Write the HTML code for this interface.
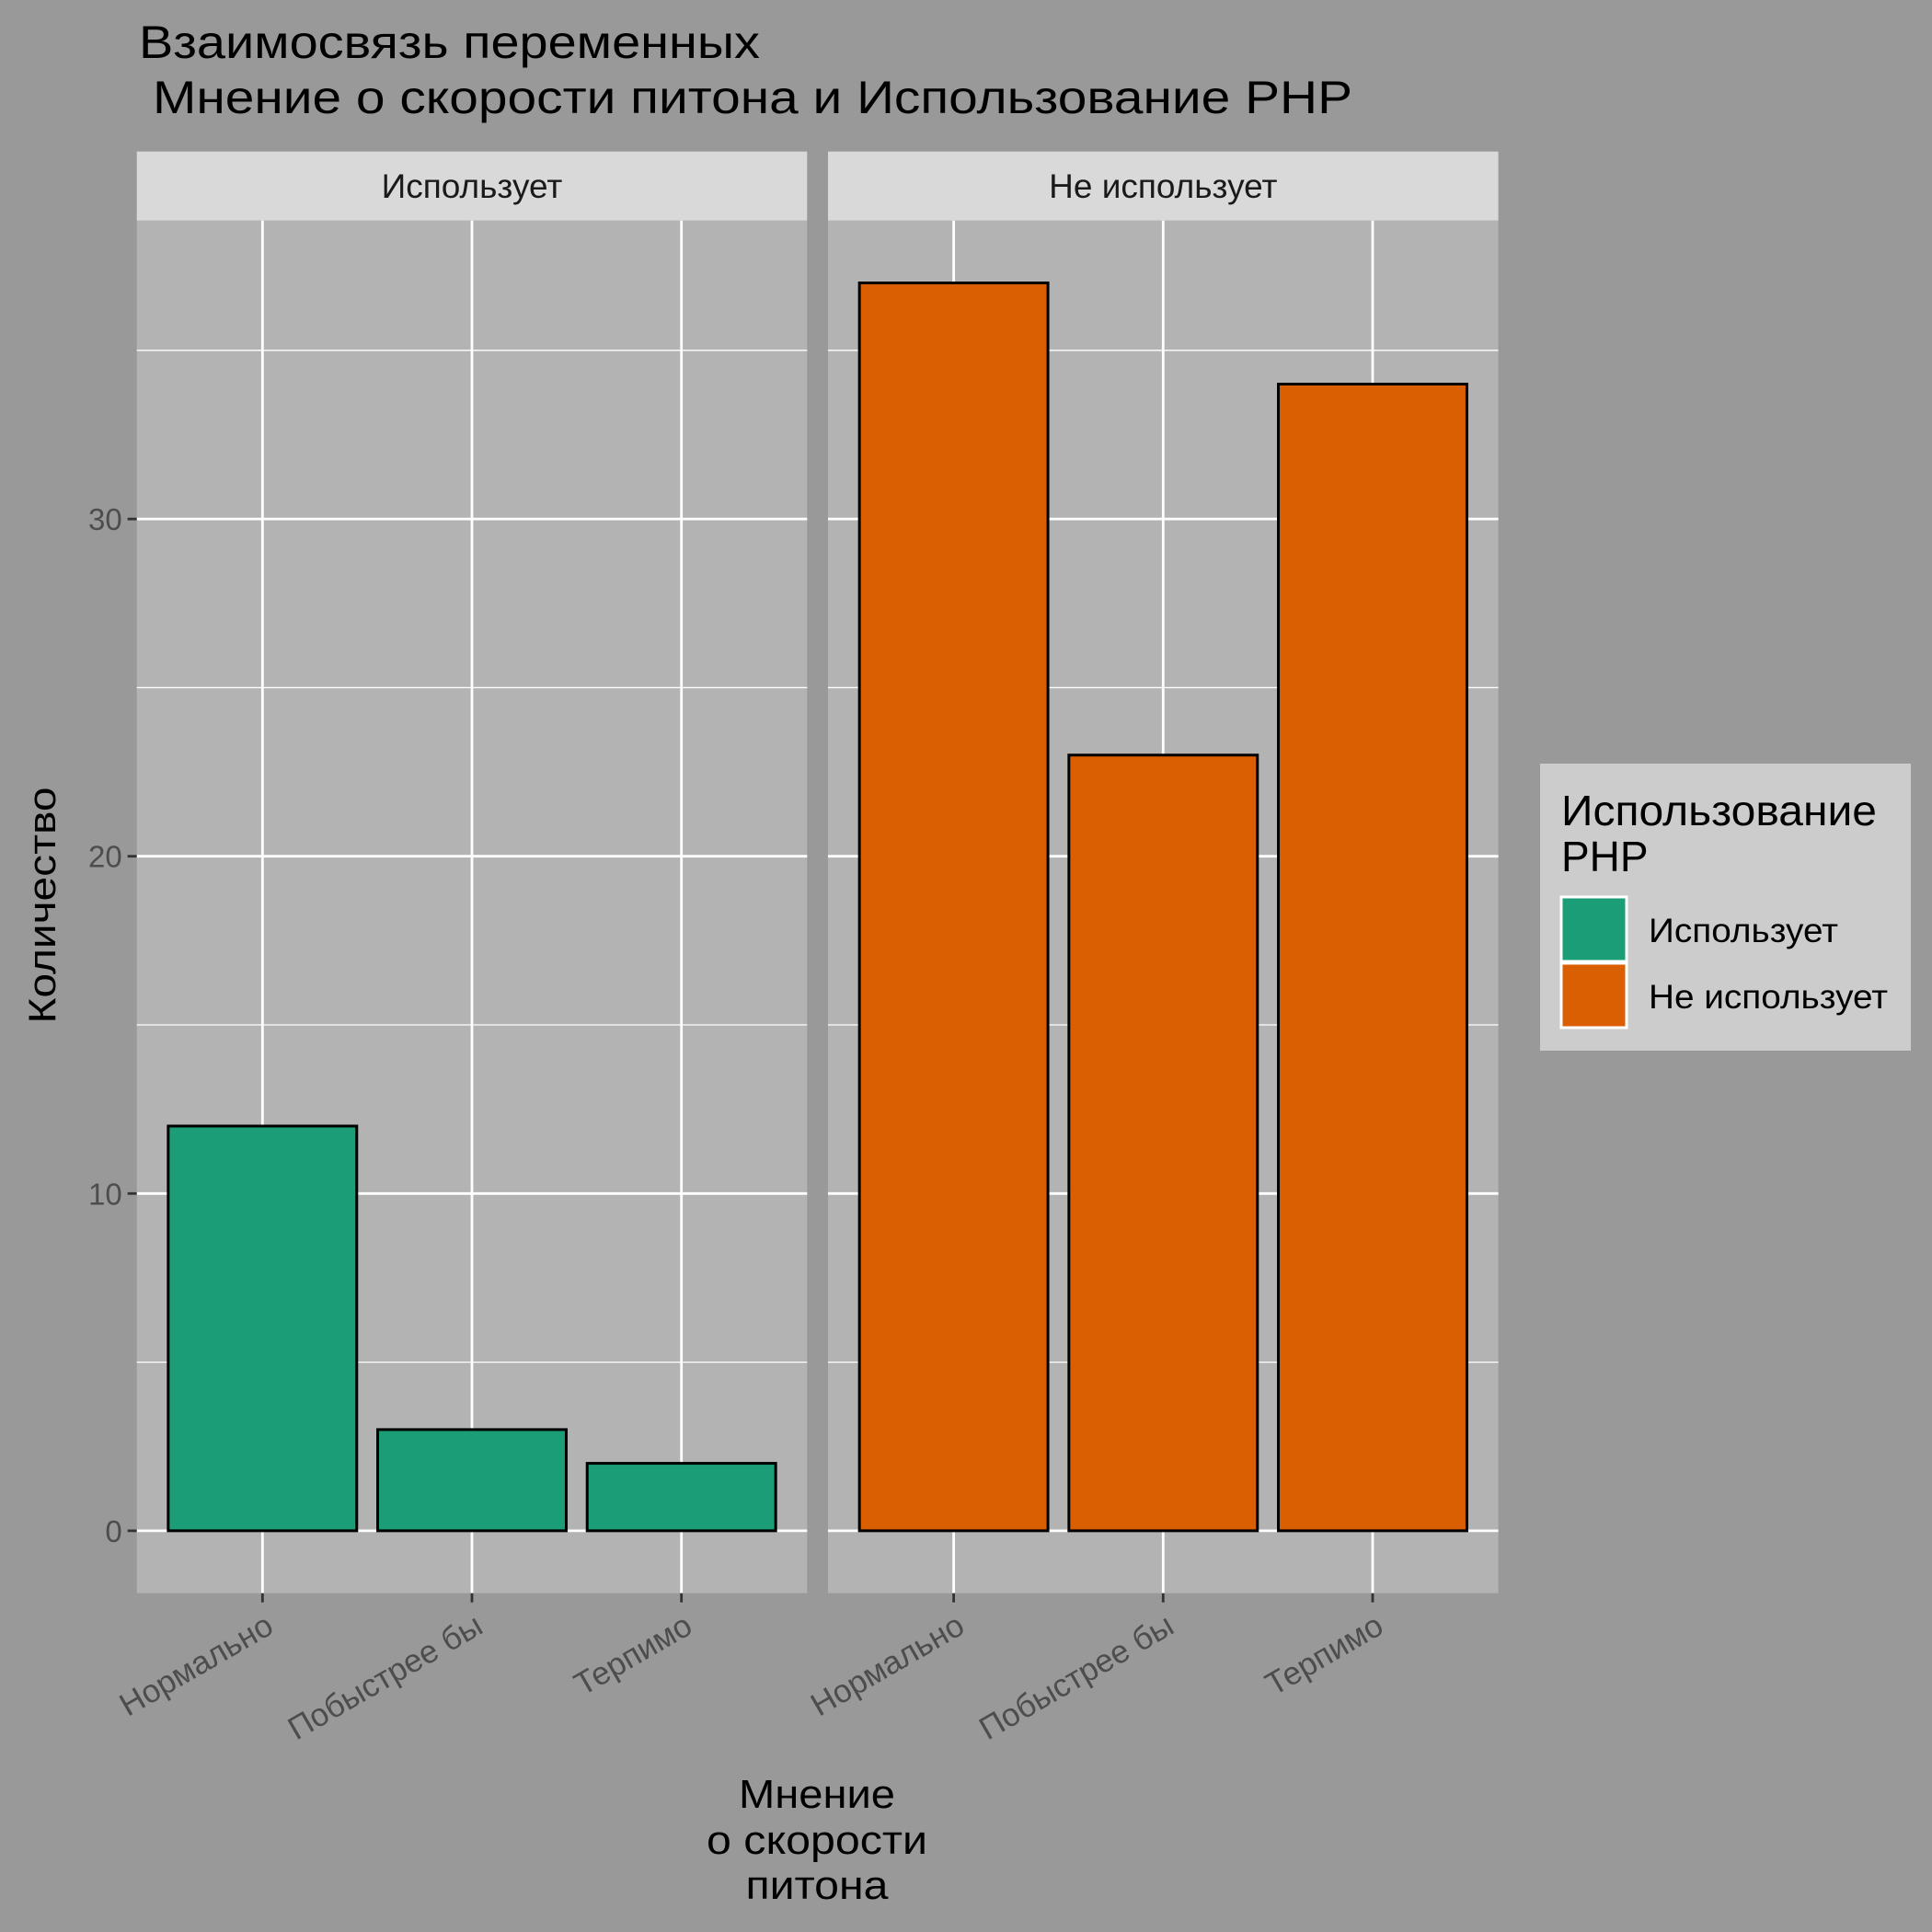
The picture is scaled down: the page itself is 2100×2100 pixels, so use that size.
<!DOCTYPE html>
<html><head><meta charset="utf-8"><style>
html,body{margin:0;padding:0;background:#999999;}
svg{display:block;font-family:"Liberation Sans","DejaVu Sans",sans-serif;}
</style></head><body>
<svg id="chart" width="2100" height="2100" viewBox="0 0 2100 2100" xmlns="http://www.w3.org/2000/svg">
<rect x="0" y="0" width="2100" height="2100" fill="#999999"/>
<text x="151" y="63" font-size="50" fill="#000" textLength="675" lengthAdjust="spacingAndGlyphs">Взаимосвязь переменных</text>
<text x="166" y="123" font-size="50" fill="#000" textLength="1304" lengthAdjust="spacingAndGlyphs">Мнение о скорости питона и Использование PHP</text>
<g id="plot"></g>
<text transform="translate(60,984) rotate(-90)" text-anchor="middle" font-size="42" fill="#000" textLength="257" lengthAdjust="spacingAndGlyphs">Количество</text>
<g font-size="44" text-anchor="middle" fill="#000">
<text x="888" y="1965" textLength="170" lengthAdjust="spacingAndGlyphs">Мнение</text>
<text x="888" y="2015" textLength="240" lengthAdjust="spacingAndGlyphs">о скорости</text>
<text x="888" y="2064" textLength="155" lengthAdjust="spacingAndGlyphs">питона</text>
</g>
<g>
<rect x="1674" y="830" width="403" height="312" fill="#cccccc"/>
<text x="1697" y="897" font-size="46" fill="#000" textLength="343" lengthAdjust="spacingAndGlyphs">Использование</text>
<text x="1697" y="947" font-size="46" fill="#000">PHP</text>
<g>
<rect x="1697" y="975" width="71" height="70" fill="#1b9e77" stroke="#fff" stroke-width="3"/>
<text x="1792" y="1024" font-size="37" fill="#000" textLength="206" lengthAdjust="spacingAndGlyphs">Использует</text>
</g>
<g>
<rect x="1697" y="1047" width="71" height="70" fill="#d95f02" stroke="#fff" stroke-width="3"/>
<text x="1792" y="1096" font-size="37" fill="#000" textLength="260" lengthAdjust="spacingAndGlyphs">Не использует</text>
</g>
</g>
</svg>
<script>
const panels = ["Использует", "Не использует"];
const categories = ["Нормально", "Побыстрее бы", "Терпимо"];
const usesValues = [12, 3, 2];
const notUsesValues = [37, 23, 34];
const yTicks = [0, 10, 20, 30];
const yMinor = [5, 15, 25, 35];
const colors = ["#1b9e77", "#d95f02"];

const NS = "http://www.w3.org/2000/svg";
const g = document.getElementById("plot");
const panelX = [148.7, 900];
const panelW = 728.6;
const stripTop = 164.7, stripBot = 239.7, panelBot = 1731.7;
const yMin = -1.85, yMax = 38.85;
function yScale(v){ return panelBot - (v - yMin) / (yMax - yMin) * (panelBot - stripBot); }
function xScale(p, i){ const step = panelW / (categories.length + 0.2); return panelX[p] + step * (0.6 + i); }
function mk(tag, attrs){ const e = document.createElementNS(NS, tag); for (const k in attrs) e.setAttribute(k, attrs[k]); g.appendChild(e); return e; }
const series = [usesValues, notUsesValues];
const step = panelW / (categories.length + 0.2);
const bw = step * 0.9;
panels.forEach((name, p) => {
  const px = panelX[p];
  const bg = mk("rect", {x: px, y: stripBot, width: panelW, height: panelBot - stripBot, fill: "#b3b3b3"});
  
  
  const st = mk("rect", {x: px, y: stripTop, width: panelW, height: stripBot - stripTop, fill: "#d9d9d9"});
  
  
  const sl = mk("text", {x: px + panelW / 2, y: 215, "text-anchor": "middle", "font-size": 37, fill: "#1a1a1a"});
  sl.textContent = name;
  
  
  yMinor.forEach(v => {
    const l = mk("line", {x1: px, x2: px + panelW, y1: yScale(v), y2: yScale(v), stroke: "#fff", "stroke-width": 1.3});
    
    
  });
  yTicks.forEach(v => {
    const l = mk("line", {x1: px, x2: px + panelW, y1: yScale(v), y2: yScale(v), stroke: "#fff", "stroke-width": 2.8});
    
    
  });
  categories.forEach((c, i) => {
    const cx = xScale(p, i);
    const l = mk("line", {x1: cx, x2: cx, y1: stripBot, y2: panelBot, stroke: "#fff", "stroke-width": 2.8});
    
    
    const t = mk("line", {x1: cx, x2: cx, y1: panelBot, y2: panelBot + 10, stroke: "#333", "stroke-width": 2.8});
    
    
    const lbl = mk("text", {transform: `translate(${cx + 14},${panelBot + 42}) rotate(-30)`, "text-anchor": "end", "font-size": 35, fill: "#4d4d4d"});
    lbl.textContent = c;
    
    
  });
  series[p].forEach((v, i) => {
    const cx = xScale(p, i);
    const b = mk("rect", {x: cx - bw / 2, y: yScale(v), width: bw, height: yScale(0) - yScale(v), fill: colors[p], stroke: "#000", "stroke-width": 3});
    
    
  });
});
yTicks.forEach(v => {
  const t = mk("line", {x1: panelX[0] - 10, x2: panelX[0], y1: yScale(v), y2: yScale(v), stroke: "#333", "stroke-width": 2.8});
  
  
  const lbl = mk("text", {x: panelX[0] - 16, y: yScale(v) + 12, "text-anchor": "end", "font-size": 33, fill: "#4d4d4d"});
  lbl.textContent = v;
  
  
});
</script>
</body></html>
